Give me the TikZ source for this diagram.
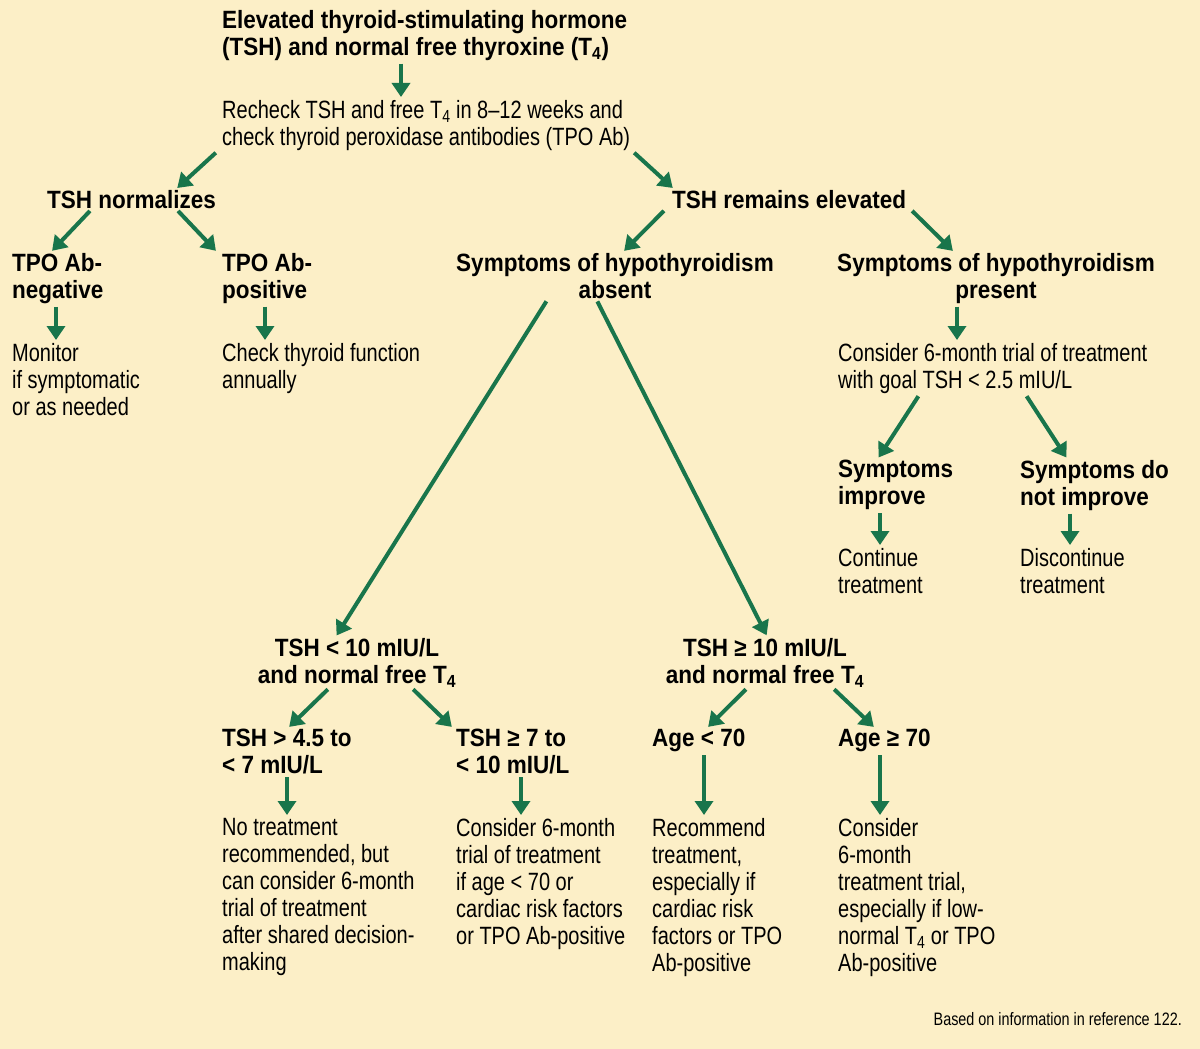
\documentclass[tikz,border=0pt]{standalone}
\usepackage{fontspec}
\setmainfont{Liberation Sans}[FakeStretch=0.8, BoldFeatures={FakeStretch=0.9}]
\usetikzlibrary{arrows.meta}
\definecolor{bgCream}{HTML}{FCEFC7}
\definecolor{arrowGreen}{HTML}{19754B}
\newcommand{\Tfour}{T\textsubscript{4}}
\tikzset{
  fText/.style={anchor=north west, inner sep=0pt, align=left, font=\fontsize{25}{27}\selectfont},
  fHead/.style={fText, font=\fontsize{25}{27}\selectfont\bfseries},
  fArrow/.style={line width=4pt, draw=arrowGreen, -{Triangle[length=14pt,width=18pt]}, shorten <=3pt, shorten >=3pt}
}
\begin{document}
\begin{tikzpicture}[x=1pt, y=-1pt]
    \fill [bgCream] (0,0) rectangle (1200,1049);
    \useasboundingbox (0,0) rectangle (1200,1049);

    % top of the chart
    \node (tshfree) [fHead] at (222,10) {Elevated thyroid-stimulating hormone\\(TSH) and normal free thyroxine (\Tfour)};
    \node (recheck) [fText] at (222,100) {Recheck TSH and free \Tfour{} in 8--12 weeks and\\check thyroid peroxidase antibodies (TPO Ab)};
    \node (normal) [fHead] at (47,190) {TSH normalizes};
    \node (elevated) [fHead] at (672,190) {TSH remains elevated};

    % TSH normalizes branch
    \node (tponeg) [fHead] at (12,253) {TPO Ab-\\negative};
    \node (tpopos) [fHead] at (222,253) {TPO Ab-\\positive};
    \node (monitor) [fText] at (12,343) {Monitor\\if symptomatic\\or as needed};
    \node (annual) [fText] at (222,343) {Check thyroid function\\annually};

    % symptoms
    \node (absent) [fHead, anchor=north, align=center] at (615,253) {Symptoms of hypothyroidism\\absent};
    \node (present) [fHead, anchor=north, align=center] at (996,253) {Symptoms of hypothyroidism\\present};
    \node (trial) [fText] at (838,343) {Consider 6-month trial of treatment\\with goal TSH < 2.5 mIU/L};
    \node (improve) [fHead] at (838,460) {Symptoms\\improve};
    \node (noimprove) [fHead] at (1020,460) {Symptoms do\\not improve};
    \node (continue) [fText] at (838,548) {Continue\\treatment};
    \node (stop) [fText] at (1020,548) {Discontinue\\treatment};

    % TSH levels
    \node (low) [fHead, anchor=north, align=center] at (357,638) {TSH < 10 mIU/L\\and normal free \Tfour};
    \node (high) [fHead, anchor=north, align=center] at (765,638) {TSH ≥ 10 mIU/L\\and normal free \Tfour};
    \node (lowa) [fHead] at (222,729) {TSH > 4.5 to\\< 7 mIU/L};
    \node (lowb) [fHead] at (456,729) {TSH ≥ 7 to\\< 10 mIU/L};
    \node (young) [fHead] at (652,729) {Age < 70};
    \node (old) [fHead] at (838,729) {Age ≥ 70};
    \node (notreat) [fText] at (222,818) {No treatment\\recommended, but\\can consider 6-month\\trial of treatment\\after shared decision-\\making};
    \node (consider) [fText] at (456,818) {Consider 6-month\\trial of treatment\\if age < 70 or\\cardiac risk factors\\or TPO Ab-positive};
    \node (recommend) [fText] at (652,818) {Recommend\\treatment,\\especially if\\cardiac risk\\factors or TPO\\Ab-positive};
    \node (considerold) [fText] at (838,818) {Consider\\6-month\\treatment trial,\\especially if low-\\normal \Tfour{} or TPO\\Ab-positive};

    \node (source) [anchor=base east, inner sep=0pt, font=\fontsize{18}{20}\selectfont] at (1182,1025) {Based on information in reference 122.};

    \draw [fArrow] (401,0 |- tshfree.south) -- (401,0 |- recheck.north);
    \draw [fArrow] (218,0 |- recheck.south) -- (175,0 |- normal.north);
    \draw [fArrow] (632,0 |- recheck.south) -- (675,0 |- elevated.north);
    \draw [fArrow] (92,0 |- normal.south) -- (50,0 |- tponeg.north);
    \draw [fArrow] (176,0 |- normal.south) -- (218,0 |- tpopos.north);
    \draw [fArrow] (666,0 |- elevated.south) -- (622,0 |- absent.north);
    \draw [fArrow] (910,0 |- elevated.south) -- (955,0 |- present.north);
    \draw [fArrow] (56,0 |- tponeg.south) -- (56,0 |- monitor.north);
    \draw [fArrow] (265,0 |- tpopos.south) -- (265,0 |- annual.north);
    \draw [fArrow] (957,0 |- present.south) -- (957,0 |- trial.north);
    \draw [fArrow] (920,0 |- trial.south) -- (877,0 |- improve.north);
    \draw [fArrow] (1025,0 |- trial.south) -- (1068,0 |- noimprove.north);
    \draw [fArrow] (880,0 |- improve.south) -- (880,0 |- continue.north);
    \draw [fArrow] (1070,0 |- noimprove.south) -- (1070,0 |- stop.north);
    \draw [fArrow] (548,0 |- absent.south) -- (335,0 |- low.north);
    \draw [fArrow] (596,0 |- absent.south) -- (768,0 |- high.north);
    \draw [fArrow] (330,0 |- low.south) -- (287,0 |- lowa.north);
    \draw [fArrow] (411,0 |- low.south) -- (454,0 |- lowb.north);
    \draw [fArrow] (748,0 |- high.south) -- (706,0 |- young.north);
    \draw [fArrow] (832,0 |- high.south) -- (876,0 |- old.north);
    \draw [fArrow] (287,0 |- lowa.south) -- (287,0 |- notreat.north);
    \draw [fArrow] (521,0 |- lowb.south) -- (521,0 |- consider.north);
    \draw [fArrow] (704,0 |- young.south) -- (704,0 |- recommend.north);
    \draw [fArrow] (880,0 |- old.south) -- (880,0 |- considerold.north);
\end{tikzpicture}
\end{document}
